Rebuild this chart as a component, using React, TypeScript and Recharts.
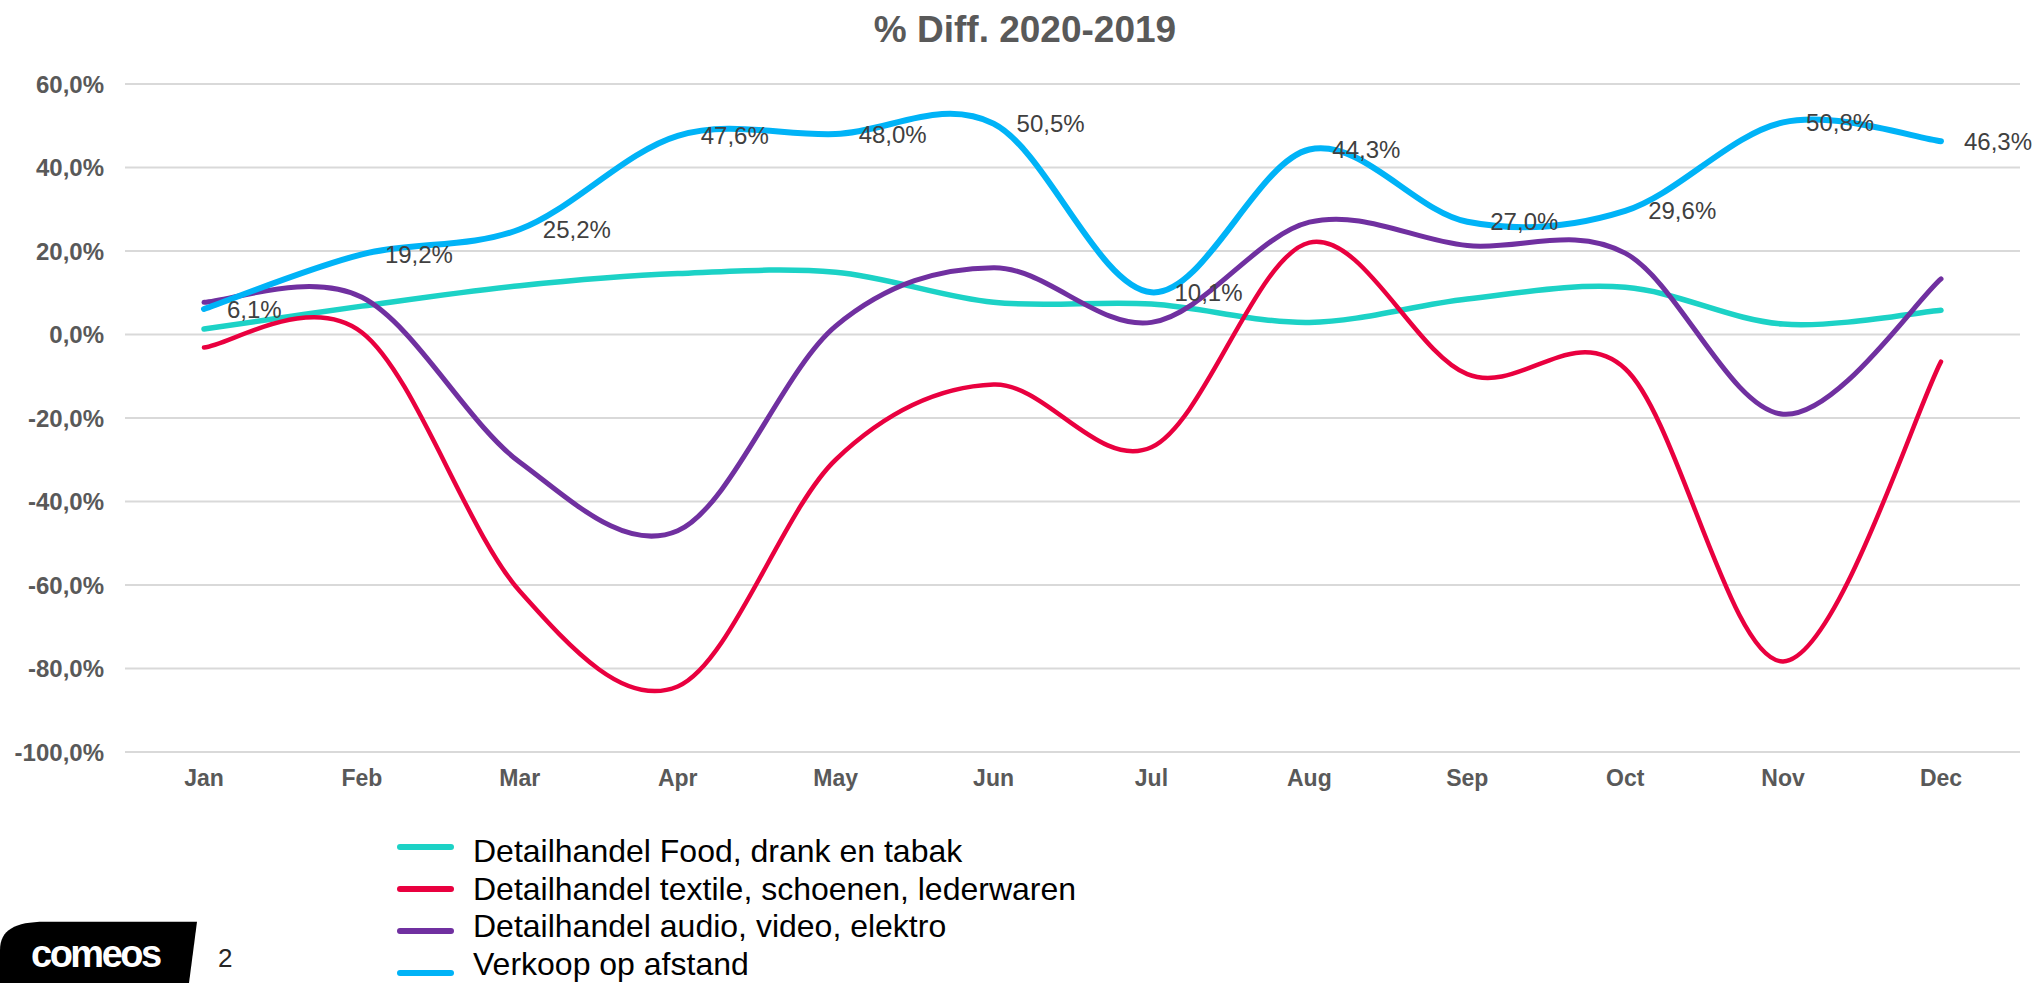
import React from "react";
import {
  LineChart,
  Line,
  XAxis,
  YAxis,
  CartesianGrid,
  LabelList,
  Legend,
} from "recharts";

const FONT = '"Liberation Sans", Arial, sans-serif';

const months = ["Jan", "Feb", "Mar", "Apr", "May", "Jun", "Jul", "Aug", "Sep", "Oct", "Nov", "Dec"];
const food = [1.3, 6.8, 11.7, 14.6, 14.9, 7.7, 7.3, 2.9, 8.5, 11.3, 2.5, 5.8];
const textile = [-3.1, 0.5, -61.5, -84.3, -30, -12, -27, 22, -9.5, -8.2, -78.3, -6.5];
const audio = [7.7, 8.9, -30.6, -47, 2, 16, 2.9, 26.9, 21.3, 19.5, -19.1, 13.3];
const online = [6.1, 19.2, 25.2, 47.6, 48.0, 50.5, 10.1, 44.3, 27.0, 29.6, 50.8, 46.3];
const yTicks = [-100, -80, -60, -40, -20, 0, 20, 40, 60];

const series = [
  { key: "food", name: "Detailhandel Food, drank en tabak", color: "#1CD2C6", width: 5.5 },
  { key: "textile", name: "Detailhandel textile, schoenen, lederwaren", color: "#E9003F", width: 4.5 },
  { key: "audio", name: "Detailhandel audio, video, elektro", color: "#7030A0", width: 5 },
  { key: "online", name: "Verkoop op afstand", color: "#00B3F7", width: 6 },
];

const data = months.map((month, i) => ({
  month,
  food: food[i],
  textile: textile[i],
  audio: audio[i],
  online: online[i],
}));

const pct = (v: number) => `${Number(v).toFixed(1).replace(".", ",")}%`;

// smooth line like office charts: catmull-rom through every point
const smoothCurve = (context: any) => {
  let pts: number[][] = [];
  return {
    areaStart() {},
    areaEnd() {},
    lineStart() {
      pts = [];
    },
    point(x: number, y: number) {
      pts.push([+x, +y]);
    },
    lineEnd() {
      if (!pts.length) return;
      context.moveTo(pts[0][0], pts[0][1]);
      for (let i = 0; i < pts.length - 1; i++) {
        const p0 = pts[Math.max(i - 1, 0)];
        const p1 = pts[i];
        const p2 = pts[i + 1];
        const p3 = pts[Math.min(i + 2, pts.length - 1)];
        context.bezierCurveTo(
          p1[0] + (p2[0] - p0[0]) / 6,
          p1[1] + (p2[1] - p0[1]) / 6,
          p2[0] - (p3[0] - p1[0]) / 6,
          p2[1] - (p3[1] - p1[1]) / 6,
          p2[0],
          p2[1]
        );
      }
    },
  };
};

const renderLegend = () => (
  <div style={{ position: "relative", width: 700, height: 149, fontFamily: FONT }}>
    {series.map((s, i) => (
      <React.Fragment key={s.key}>
        <div
          style={{
            position: "absolute",
            left: 0,
            top: 14 + i * 42 - 3,
            width: 57,
            height: 6,
            borderRadius: 3,
            background: s.color,
          }}
        />
        <div
          style={{
            position: "absolute",
            left: 76,
            top: i * 37.5,
            fontSize: 32,
            lineHeight: "37.5px",
            color: "#000",
            whiteSpace: "nowrap",
          }}
        >
          {s.name}
        </div>
      </React.Fragment>
    ))}
  </div>
);

export default function App() {
  return (
    <div style={{ position: "absolute", left: 0, top: 0, width: 2039, height: 983, background: "#fff", overflow: "hidden" }}>
      <LineChart width={2039} height={983} data={data} margin={{ top: 84, right: 19, left: 15, bottom: 191 }}>
        <CartesianGrid vertical={false} stroke="#D9D9D9" strokeWidth={2} />
        <XAxis
          dataKey="month"
          padding={{ left: 79, right: 79 }}
          axisLine={false}
          tickLine={false}
          tickSize={0}
          tickMargin={18}
          height={40}
          interval={0}
          tick={{ fill: "#595959", fontSize: 23, fontWeight: 700, fontFamily: FONT }}
        />
        <YAxis
          domain={[-100, 60]}
          ticks={yTicks}
          interval={0}
          width={110}
          axisLine={false}
          tickLine={false}
          tickSize={0}
          tickMargin={21}
          tickFormatter={pct}
          tick={{ fill: "#595959", fontSize: 24, fontWeight: 700, fontFamily: FONT }}
        />
        <Legend
          layout="horizontal"
          verticalAlign="middle"
          align="center"
          content={renderLegend}
          wrapperStyle={{ left: 397, top: 833, width: 700, height: 149 }}
        />
        {series.map((s) => (
          <Line
            key={s.key}
            dataKey={s.key}
            name={s.name}
            type={smoothCurve as any}
            stroke={s.color}
            strokeWidth={s.width}
            strokeLinecap="round"
            dot={false}
            activeDot={false}
            isAnimationActive={false}
          >
            {s.key === "online" && (
              <LabelList
                dataKey="online"
                position="right"
                offset={23}
                formatter={(v: any) => pct(v)}
                fill="#404040"
                fontSize={24}
                fontFamily={FONT}
              />
            )}
          </Line>
        ))}
      </LineChart>
      <svg
        width={2039}
        height={983}
        style={{ position: "absolute", left: 0, top: 0, pointerEvents: "none" }}
      >
        <text
          x={1025}
          y={42}
          textAnchor="middle"
          fontFamily={FONT}
          fontSize={37}
          fontWeight={700}
          fill="#595959"
        >
          % Diff. 2020-2019
        </text>
        <path d="M0,983 L0,950 C0,930 15,921.7 45,921.7 L197,921.7 L189,983 Z" fill="#000" />
        <text x={31} y={967} fontFamily={FONT} fontSize={38} fontWeight={700} fill="#fff" letterSpacing={-2.5}>
          comeos
        </text>
        <text x={218} y={967} fontFamily={FONT} fontSize={26} fill="#262626">
          2
        </text>
      </svg>
    </div>
  );
}
